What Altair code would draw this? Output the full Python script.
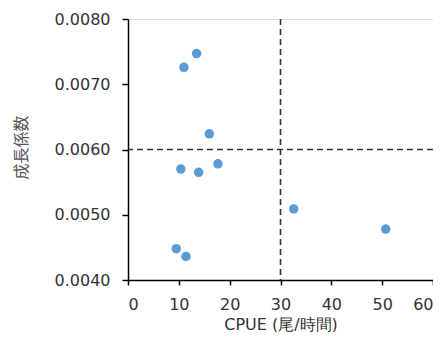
import altair as alt
import pandas as pd

cpue = [13.5, 11.0, 16.0, 10.4, 13.9, 17.7, 32.6, 50.7, 9.5, 11.4]
growth = [0.00747, 0.00726, 0.00624, 0.00570, 0.00565, 0.00578, 0.00509, 0.00478, 0.00448, 0.00436]
x_ref = [30]
y_ref = [0.0060]

df = pd.DataFrame({"cpue": cpue, "growth": growth})
FONT = "DejaVu Sans"

points = alt.Chart(df).mark_circle(size=90, opacity=1, color="#5B9BD5").encode(
    x=alt.X("cpue:Q", scale=alt.Scale(domain=[0, 60], nice=False),
            axis=alt.Axis(values=[0, 10, 20, 30, 40, 50, 60], title="CPUE (尾/時間)",
                          grid=False, tickSize=5, labelPadding=11, titlePadding=4,
                          domainColor="#000", tickColor="#000", domainWidth=1.5, tickWidth=1.5,
                          labelFont=FONT, labelFontSize=16, labelColor="#333",
                          titleFont=FONT, titleFontSize=16, titleFontWeight="normal", titleColor="#333")),
    y=alt.Y("growth:Q", scale=alt.Scale(domain=[0.004, 0.008], nice=False, zero=False),
            axis=alt.Axis(values=[0.004, 0.005, 0.006, 0.007, 0.008], format=".4f", title="成長係数",
                          grid=False, tickSize=6, labelPadding=12,
                          domainColor="#000", tickColor="#000", domainWidth=1.5, tickWidth=1.5,
                          labelFont=FONT, labelFontSize=16, labelColor="#333",
                          titleX=-107, titleY=128, titleAngle=270, titleBaseline="middle",
                          titleFont="Noto Sans CJK JP", titleFontSize=16, titleFontWeight="normal",
                          titleColor="#555")),
)

vline = alt.Chart(pd.DataFrame({"x": x_ref})).mark_rule(
    color="#333", strokeDash=[6, 4], strokeWidth=1.6).encode(x="x:Q")
hline = alt.Chart(pd.DataFrame({"y": y_ref})).mark_rule(
    color="#333", strokeDash=[6, 4], strokeWidth=1.6).encode(y="y:Q")

chart = alt.layer(vline, hline, points).properties(
    width=305, height=261,
    autosize=alt.AutoSizeParams(type="none"),
    padding={"left": 120, "top": 11, "right": 0, "bottom": 52},
).configure_view(stroke="#000", strokeWidth=1.5).configure(background="white")

chart.save("out.html", embed_options={"renderer": "svg", "actions": False})
